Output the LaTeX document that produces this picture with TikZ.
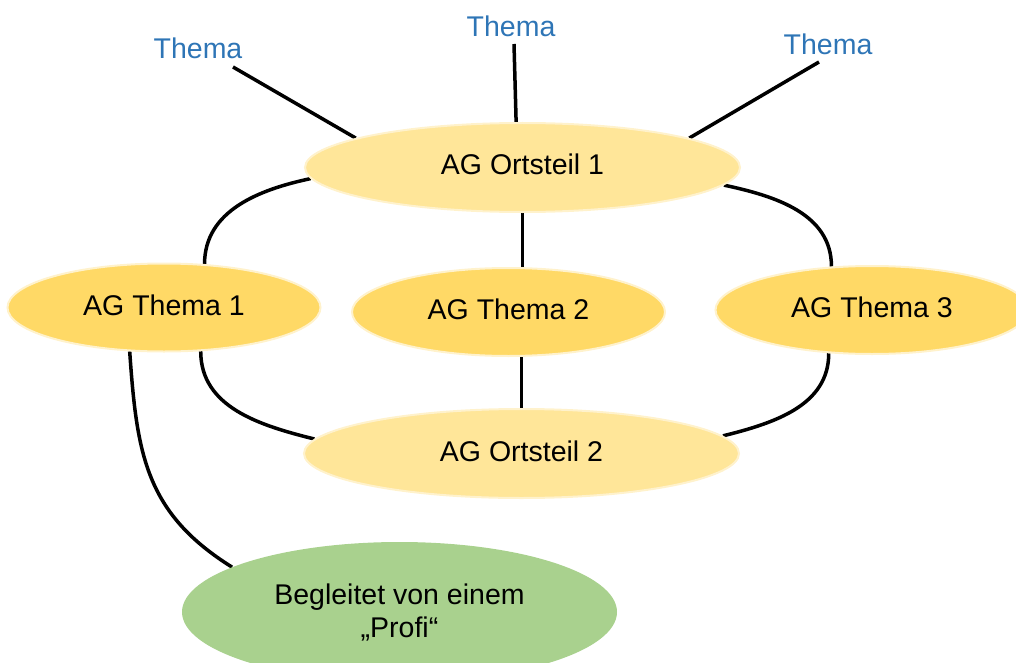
\documentclass[tikz,border=0pt]{standalone}
\usepackage{fontspec}
\setmainfont{Liberation Sans}
\usetikzlibrary{shapes.geometric,backgrounds}
\definecolor{ortfill}{HTML}{FFE699}
\definecolor{themafill}{HTML}{FFD966}
\definecolor{profifill}{HTML}{A9D18E}
\definecolor{rimcol}{HTML}{FFF2CC}
\definecolor{labelblue}{HTML}{2E75B6}
\begin{document}
\begin{tikzpicture}[x=1pt,y=1pt,
  bubble/.style={ellipse, draw=rimcol, line width=2pt, inner sep=0pt,
    text height=21pt, text depth=6pt,
    font=\fontsize{28.5}{33}\selectfont, text=black},
  ortbubble/.style={bubble, fill=ortfill, minimum width=435pt, minimum height=89pt},
  themabubble/.style={bubble, fill=themafill, minimum width=313pt, minimum height=88pt},
  profibubble/.style={ellipse, fill=profifill, minimum width=435pt, minimum height=140pt,
    inner sep=0pt, align=center, font=\fontsize{28.5}{33}\selectfont, text=black},
  topiclabel/.style={text=labelblue, inner sep=0pt, font=\fontsize{28.5}{33}\selectfont},
  link/.style={line width=3.5pt, black}
]
\useasboundingbox (0,-663) rectangle (1016,0);
\clip (0,-663) rectangle (1016,0);

% nodes
\node[ortbubble] (o1) at (522.5,-167.5) {AG Ortsteil 1};
\node[themabubble] (t1) at (164,-307.5) {AG Thema 1};
\node[themabubble] (t2) at (508.5,-312) {AG Thema 2};
\node[themabubble] (t3) at (872,-310) {AG Thema 3};
\node[ortbubble] (o2) at (521.5,-453.5) {AG Ortsteil 2};
\node[profibubble] (pr) at (399.5,-612) {Begleitet von einem\\„Profi“};

\node[topiclabel] (th1) at (198,-48) {Thema};
\node[topiclabel] (th2) at (511,-26) {Thema};
\node[topiclabel] (th3) at (828,-44) {Thema};

\coordinate (c1) at (233,-67);
\coordinate (c2) at (514,-44);
\coordinate (c3) at (819,-62);

% connectors
\begin{scope}[on background layer]
\draw[link] (c1) -- (o1.170);
\draw[link] (c2) -- (o1.98);
\draw[link] (c3) -- (o1.10);
\draw[link] (o1.183.6) to[out=192,in=90] (t1.47);
\draw[link] (o1.355.4) to[out=348,in=90] (t3.133);
\draw[link] (o1.south) -- (o1.south |- t2.north);
\draw[link] (o2.north |- t2.south) -- (o2.north);
\draw[link] (t1.310) to[out=270,in=166] (o2.176.3);
\draw[link] (t3.225) to[out=270,in=14] (o2.5.7);
\draw[link] (t1.232) to[out=274,in=148,looseness=1.1] (pr.165.4);
\end{scope}
\end{tikzpicture}
\end{document}
